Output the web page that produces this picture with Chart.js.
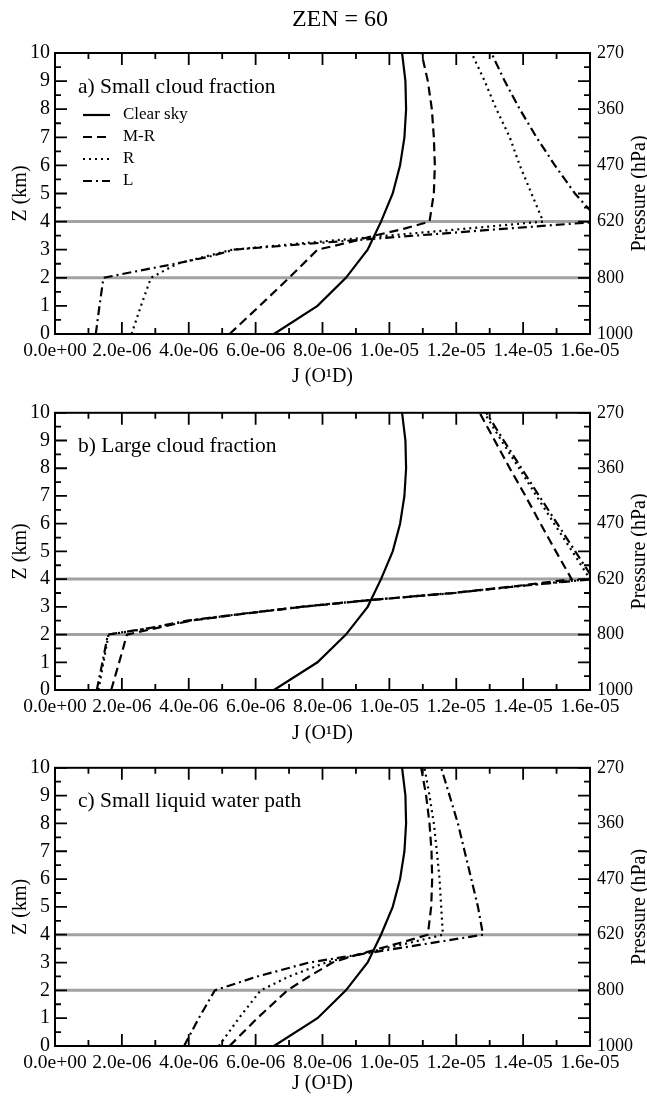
<!DOCTYPE html>
<html>
<head>
<meta charset="utf-8">
<script src="https://cdn.jsdelivr.net/npm/chart.js@4.4.1/dist/chart.umd.min.js"></script>
<style>
  body { margin: 0; background: #fff; }
  #wrap { position: relative; width: 647px; height: 1099px; }
  canvas { position: absolute; left: 0; }
</style>
</head>
<body>
<div id="wrap">
  <canvas id="pa" width="647" height="395" style="top:0"></canvas>
  <canvas id="pb" width="647" height="355" style="top:395px"></canvas>
  <canvas id="pc" width="647" height="349" style="top:750px"></canvas>
</div>
<script>
// axes
const xTickVals = [0, 2e-6, 4e-6, 6e-6, 8e-6, 1e-5, 1.2e-5, 1.4e-5, 1.6e-5];
const xTickLabels = ["0.0e+00", "2.0e-06", "4.0e-06", "6.0e-06", "8.0e-06", "1.0e-05", "1.2e-05", "1.4e-05", "1.6e-05"];
const zTickVals = [0, 1, 2, 3, 4, 5, 6, 7, 8, 9, 10];
const pTickVals = [0, 2, 4, 6, 8, 10];
const pTickLabels = ["1000", "800", "620", "470", "360", "270"];
const cloudLevels = [2, 4];
const seriesNames = ["Clear sky", "M-R", "R", "L"];

// clear sky (same in every panel)
const zClear = [0, 1, 2, 3, 4, 5, 6, 7, 8, 9, 10];
const jClear = [6.55e-6, 7.85e-6, 8.7e-6, 9.35e-6, 9.75e-6, 10.1e-6, 10.32e-6, 10.45e-6, 10.5e-6, 10.48e-6, 10.38e-6];

// a) small cloud fraction
const zA_MR = [0, 1, 2, 3, 3.25, 3.5, 3.75, 4, 5, 6, 7, 8, 9, 10];
const jA_MR = [5.22e-6, 6.12e-6, 7.0e-6, 7.85e-6, 8.75e-6, 9.55e-6, 10.45e-6, 11.2e-6, 11.33e-6, 11.36e-6, 11.33e-6, 11.27e-6, 11.15e-6, 10.96e-6];
const zA_R = [0, 1, 2, 2.5, 3, 3.25, 3.5, 3.75, 4, 5, 6, 7, 8, 9, 10];
const jA_R = [2.29e-6, 2.57e-6, 2.87e-6, 3.65e-6, 5.3e-6, 7.6e-6, 9.95e-6, 12.3e-6, 14.6e-6, 14.25e-6, 13.9e-6, 13.6e-6, 13.2e-6, 12.85e-6, 12.46e-6];
const zA_L = [0, 1, 2, 2.25, 2.5, 2.75, 3, 3.25, 3.5, 3.75, 4, 5, 6, 7, 8, 9, 10];
const jA_L = [1.22e-6, 1.33e-6, 1.45e-6, 2.5e-6, 3.6e-6, 4.6e-6, 5.35e-6, 8.0e-6, 10.75e-6, 13.5e-6, 16.3e-6, 15.55e-6, 14.95e-6, 14.4e-6, 13.9e-6, 13.45e-6, 13.05e-6];

// b) large cloud fraction
const zB = [0, 1, 2, 2.25, 2.5, 2.75, 3, 3.25, 3.5, 3.75, 4, 5, 6, 7, 8, 9, 10];
const jB_MR = [1.68e-6, 1.92e-6, 2.15e-6, 3.1e-6, 4.05e-6, 5.65e-6, 7.4e-6, 9.5e-6, 11.9e-6, 13.8e-6, 15.45e-6, 14.98e-6, 14.52e-6, 14.07e-6, 13.6e-6, 13.15e-6, 12.7e-6];
const jB_R = [1.3e-6, 1.45e-6, 1.6e-6, 2.95e-6, 4.0e-6, 5.6e-6, 7.35e-6, 9.45e-6, 11.9e-6, 13.85e-6, 16.0e-6, 15.47e-6, 14.93e-6, 14.4e-6, 13.88e-6, 13.35e-6, 12.84e-6];
const jB_L = [1.25e-6, 1.42e-6, 1.58e-6, 2.9e-6, 3.95e-6, 5.6e-6, 7.35e-6, 9.45e-6, 11.95e-6, 13.9e-6, 16.1e-6, 15.56e-6, 15.02e-6, 14.48e-6, 13.95e-6, 13.42e-6, 12.9e-6];

// c) small liquid water path
const zC = [0, 1, 2, 2.5, 3, 3.25, 3.5, 3.75, 4, 5, 6, 7, 8, 9, 10];
const jC_MR = [5.22e-6, 6.05e-6, 6.95e-6, 7.6e-6, 8.3e-6, 8.95e-6, 9.7e-6, 10.45e-6, 11.15e-6, 11.25e-6, 11.28e-6, 11.26e-6, 11.2e-6, 11.1e-6, 10.95e-6];
const jC_R = [4.9e-6, 5.5e-6, 6.15e-6, 7.0e-6, 8.1e-6, 8.95e-6, 9.85e-6, 10.75e-6, 11.6e-6, 11.55e-6, 11.5e-6, 11.42e-6, 11.33e-6, 11.2e-6, 11.05e-6];
const jC_L = [3.86e-6, 4.3e-6, 4.78e-6, 6.05e-6, 7.6e-6, 8.9e-6, 10.2e-6, 11.5e-6, 12.8e-6, 12.65e-6, 12.45e-6, 12.25e-6, 12.05e-6, 11.8e-6, 11.55e-6];

const FONT = "'Liberation Serif', 'Times New Roman', serif";
const DASHES = [[], [9, 5], [2, 4], [9, 4, 2, 4]];

function pts(z, j) {
  return z.map((zz, i) => ({ x: j[i], y: zz }));
}

function profileSets(series) {
  const sets = series.map((s, i) => ({
    label: seriesNames[i],
    data: pts(s[0], s[1]),
    borderColor: "#000",
    borderWidth: 2.2,
    borderDash: DASHES[i],
    pointRadius: 0,
    tension: 0,
    fill: false,
    order: i
  }));
  cloudLevels.forEach(lv => {
    sets.push({
      label: "",
      data: [{ x: xTickVals[0], y: lv }, { x: xTickVals[xTickVals.length - 1], y: lv }],
      borderColor: "#a2a2a2",
      borderWidth: 3,
      pointRadius: 0,
      order: 10
    });
  });
  return sets;
}

const panelDeco = {
  id: "panelDeco",
  afterDraw(chart, args, o) {
    const { ctx, chartArea: a, scales } = chart;
    ctx.save();
    ctx.strokeStyle = "#000";
    ctx.fillStyle = "#000";
    ctx.lineWidth = 1.8;
    ctx.beginPath();
    for (let i = 0; i <= 16; i++) {
      const px = scales.x.getPixelForValue(i * 1e-6);
      const len = i % 2 ? 6 : 12;
      ctx.moveTo(px, a.bottom); ctx.lineTo(px, a.bottom - len);
      ctx.moveTo(px, a.top); ctx.lineTo(px, a.top + len);
    }
    for (let i = 0; i <= 20; i++) {
      const py = scales.y.getPixelForValue(i * 0.5);
      const len = i % 2 ? 6 : 12;
      ctx.moveTo(a.left, py); ctx.lineTo(a.left + len, py);
      ctx.moveTo(a.right, py); ctx.lineTo(a.right - len, py);
    }
    ctx.stroke();
    ctx.lineWidth = 2;
    ctx.strokeRect(a.left, a.top, a.right - a.left, a.bottom - a.top);

    ctx.textBaseline = "middle";
    ctx.textAlign = "left";
    ctx.font = "21.5px " + FONT;
    ctx.fillText(o.label, a.left + 23, a.top + 34);

    if (o.heading) {
      ctx.font = "24px " + FONT;
      ctx.textAlign = "center";
      ctx.fillText(o.heading, 340, 20);
    }

    ctx.save();
    ctx.translate(640, (a.top + a.bottom) / 2);
    ctx.rotate(-Math.PI / 2);
    ctx.textAlign = "center";
    ctx.font = "20px " + FONT;
    ctx.fillText("Pressure (hPa)", 0, 0);
    ctx.restore();

    if (o.legend) {
      ctx.font = "17px " + FONT;
      ctx.textAlign = "left";
      chart.data.datasets.filter(d => d.label).forEach((d, i) => {
        const y = a.top + 62 + i * 22;
        ctx.setLineDash(d.borderDash || []);
        ctx.lineWidth = 2.2;
        ctx.beginPath();
        ctx.moveTo(83, y); ctx.lineTo(110, y);
        ctx.stroke();
        ctx.setLineDash([]);
        ctx.fillText(d.label, 123, y);
      });
    }
    ctx.restore();
  }
};

function makePanel(id, series, deco, areaTop, areaBottom, titlePad) {
  const cv = document.getElementById(id);
  const H = cv.height;
  return new Chart(cv, {
    type: "line",
    data: { datasets: profileSets(series) },
    options: {
      responsive: false,
      animation: false,
      events: [],
      layout: { padding: { top: areaTop, left: 0, right: 0, bottom: 0 } },
      plugins: { legend: { display: false }, tooltip: { enabled: false }, panelDeco: deco },
      scales: {
        x: {
          type: "linear", position: "bottom", min: 0, max: 1.6e-5,
          afterBuildTicks: s => { s.ticks = xTickVals.map(v => ({ value: v })); },
          ticks: { callback: (v, i) => xTickLabels[i], font: { family: FONT, size: 19.5 }, color: "#000", padding: 5, maxRotation: 0, autoSkip: false },
          grid: { display: false, drawTicks: false },
          border: { display: false },
          title: { display: true, text: "J (O\u00b9D)", font: { family: FONT, size: 20 }, color: "#000", padding: { top: 0, bottom: titlePad } },
          afterFit: s => { s.height = H - areaBottom; }
        },
        y: {
          type: "linear", position: "left", min: 0, max: 10,
          afterBuildTicks: s => { s.ticks = zTickVals.map(v => ({ value: v })); },
          ticks: { callback: v => String(v), font: { family: FONT, size: 20 }, color: "#000", padding: 5 },
          grid: { display: false, drawTicks: false },
          border: { display: false },
          title: { display: true, text: "Z (km)", font: { family: FONT, size: 20 }, color: "#000", padding: { top: 9, bottom: 0 } },
          afterFit: s => { s.width = 55; }
        },
        y2: {
          type: "linear", position: "right", min: 0, max: 10,
          afterBuildTicks: s => { s.ticks = pTickVals.map(v => ({ value: v })); },
          ticks: { callback: (v, i) => pTickLabels[i], font: { family: FONT, size: 18 }, color: "#000", padding: 7 },
          grid: { display: false, drawTicks: false },
          border: { display: false },
          afterFit: s => { s.width = 57; }
        }
      }
    },
    plugins: [panelDeco]
  });
}

makePanel("pa",
  [[zClear, jClear], [zA_MR, jA_MR], [zA_R, jA_R], [zA_L, jA_L]],
  { label: "a) Small cloud fraction", legend: true, heading: "ZEN = 60" },
  53, 334, 6);
makePanel("pb",
  [[zClear, jClear], [zB, jB_MR], [zB, jB_R], [zB, jB_L]],
  { label: "b) Large cloud fraction" },
  15, 295, 4);
makePanel("pc",
  [[zClear, jClear], [zC, jC_MR], [zC, jC_R], [zC, jC_L]],
  { label: "c) Small liquid water path" },
  17, 296, 3);
</script>
</body>
</html>
